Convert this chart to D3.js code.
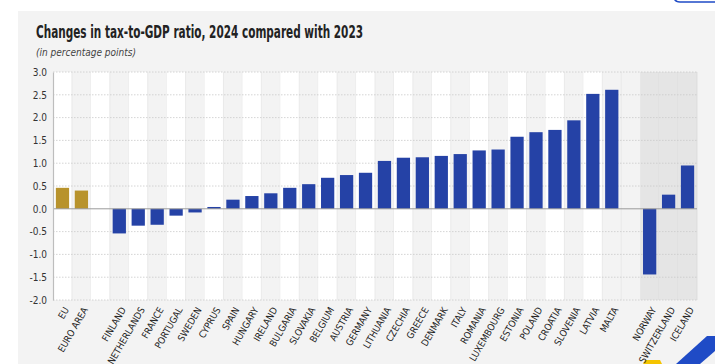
<!DOCTYPE html>
<html>
<head>
<meta charset="utf-8">
<script src="https://cdn.jsdelivr.net/npm/d3@7"></script>
<style>
  html, body { margin: 0; padding: 0; background: #ffffff; }
  svg { display: block; }
</style>
</head>
<body>
<div id="chart-container"></div>
<script>
const width = 715;
const height = 364;
const marginTop = 72;
const marginBottom = 64;   // axis at y = 300
const marginLeft = 53;
const plotRight = 697;

const font = "'Liberation Sans Narrow', 'DejaVu Sans Condensed', 'Roboto', sans-serif";

// data (percentage points)
const aggregates = ["EU", "EURO AREA"];
const aggregateValues = [0.46, 0.40];
const memberStates = ["FINLAND", "NETHERLANDS", "FRANCE", "PORTUGAL", "SWEDEN", "CYPRUS", "SPAIN",
    "HUNGARY", "IRELAND", "BULGARIA", "SLOVAKIA", "BELGIUM", "AUSTRIA", "GERMANY", "LITHUANIA",
    "CZECHIA", "GREECE", "DENMARK", "ITALY", "ROMANIA", "LUXEMBOURG", "ESTONIA", "POLAND",
    "CROATIA", "SLOVENIA", "LATVIA", "MALTA"];
const memberValues = [-0.54, -0.37, -0.35, -0.15, -0.08, 0.04, 0.20, 0.28, 0.34, 0.46, 0.54,
    0.68, 0.74, 0.79, 1.05, 1.12, 1.13, 1.16, 1.20, 1.28, 1.30, 1.58, 1.68, 1.73, 1.94, 2.52, 2.61];
const efta = ["NORWAY", "SWITZERLAND", "ICELAND"];
const eftaValues = [-1.44, 0.31, 0.95];
const yTicks = [-2.0, -1.5, -1.0, -0.5, 0.0, 0.5, 1.0, 1.5, 2.0, 2.5, 3.0];

const gold = "#b8932c";
const blue = "#2542a6";

const rows = [
    ...aggregates.map((c, i) => ({key: c, value: aggregateValues[i], color: gold})),
    {key: "_gap1", value: null},
    ...memberStates.map((c, i) => ({key: c, value: memberValues[i], color: blue})),
    {key: "_gap2", value: null},
    ...efta.map((c, i) => ({key: c, value: eftaValues[i], color: blue, efta: true}))
];

const svg = d3.select("#chart-container")
    .append("svg")
    .attr("width", width)
    .attr("height", height)
    .style("background-color", "#ffffff");

// grey panel
svg.append("rect")
    .attr("x", 18).attr("y", 11)
    .attr("width", width - 18).attr("height", height - 11)
    .attr("fill", "#f3f3f3");

// little bits of the surrounding page
svg.append("path")
    .attr("d", "M674,-4 Q674,2 680,2 L716,2")
    .attr("fill", "none").attr("stroke", "#1f4bc6").attr("stroke-width", 1.6);
svg.append("path")
    .attr("d", "M676,364 L707,336 L716,336 L716,350 L700,364 Z")
    .attr("fill", "#1f4bc6");
svg.append("path")
    .attr("d", "M643,364 L645,360 L660,360 L662,364 Z")
    .attr("fill", "#f5c400");

const x = d3.scaleBand()
    .domain(rows.map(d => d.key))
    .range([marginLeft, plotRight]);

const y = d3.scaleLinear()
    .domain([-2, 3])
    .range([height - marginBottom, marginTop]);

// column stripes
const stripes = svg.append("g");
rows.forEach((d, i) => {
    if (d.key === "_gap2") return;
    let fill = null;
    if (d.efta) fill = "#e5e5e5";
    else if (i % 2 === 0) fill = "#ffffff";
    if (fill) {
        stripes.append("rect")
            .attr("x", x(d.key)).attr("y", y(3))
            .attr("width", x.bandwidth()).attr("height", y(-2) - y(3))
            .attr("fill", fill);
    }
    stripes.append("line")
        .attr("x1", x(d.key) + x.bandwidth()).attr("x2", x(d.key) + x.bandwidth())
        .attr("y1", y(3)).attr("y2", y(-2))
        .attr("stroke", d.efta ? "#d9d9d9" : "#e6e6e6").attr("stroke-width", 0.8);
});

// gridlines
svg.append("g")
    .selectAll("line")
    .data(yTicks.filter(t => t !== 0))
    .join("line")
    .attr("x1", marginLeft).attr("x2", plotRight)
    .attr("y1", d => y(d)).attr("y2", d => y(d))
    .attr("stroke", "#c9c9c9")
    .attr("stroke-width", 0.8)
    .attr("stroke-dasharray", "1.5,1.5");

// bars
svg.append("g")
    .selectAll("rect")
    .data(rows.filter(d => d.value !== null))
    .join("rect")
    .attr("x", d => x(d.key) + x.bandwidth() * 0.15)
    .attr("width", x.bandwidth() * 0.7)
    .attr("y", d => y(Math.max(0, d.value)))
    .attr("height", d => Math.abs(y(d.value) - y(0)))
    .attr("fill", d => d.color);

// zero line
svg.append("line")
    .attr("x1", marginLeft).attr("x2", plotRight)
    .attr("y1", y(0)).attr("y2", y(0))
    .attr("stroke", "#9a9a9a").attr("stroke-width", 1);

// y axis
const yAxis = svg.append("g")
    .attr("transform", `translate(${marginLeft},0)`)
    .call(d3.axisLeft(y).tickValues(yTicks).tickSize(0).tickPadding(6).tickFormat(d => d.toFixed(1)));
yAxis.select(".domain").attr("stroke", "#bdbdbd").attr("stroke-width", 1.2);
yAxis.selectAll("text")
    .attr("font-family", font)
    .attr("font-size", 10)
    .attr("fill", "#333");

// x labels
svg.append("g")
    .selectAll("text")
    .data(rows.filter(d => d.value !== null))
    .join("text")
    .attr("transform", d => `translate(${x(d.key) + x.bandwidth() / 2 + 4},${height - marginBottom + 8}) rotate(-60)`)
    .attr("text-anchor", "end")
    .attr("dy", "0.35em")
    .attr("font-family", font)
    .attr("font-size", 9.5)
    .attr("fill", "#222")
    .text(d => d.key);

// title
svg.append("text")
    .attr("x", 36).attr("y", 38)
    .attr("font-family", font)
    .attr("font-weight", "bold")
    .attr("font-size", 17)
    .attr("fill", "#222")
    .attr("textLength", 327)
    .attr("lengthAdjust", "spacingAndGlyphs")
    .text("Changes in tax-to-GDP ratio, 2024 compared with 2023");

svg.append("text")
    .attr("x", 36).attr("y", 56)
    .attr("font-family", font)
    .attr("font-style", "italic")
    .attr("font-size", 10)
    .attr("fill", "#444")
    .text("(in percentage points)");
</script>
</body>
</html>
